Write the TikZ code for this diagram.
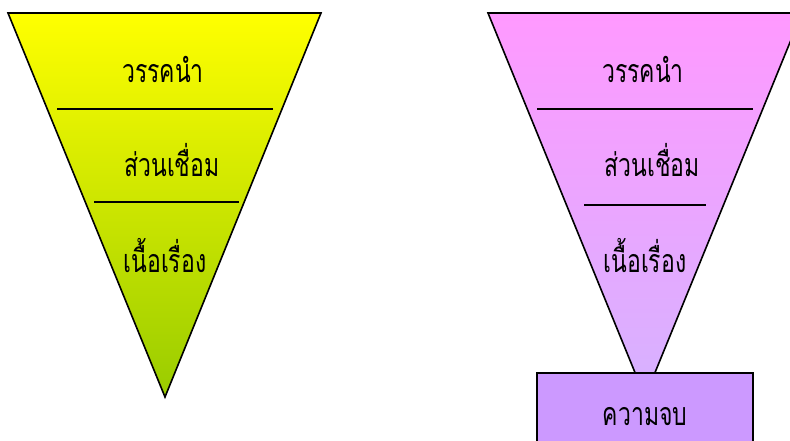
\documentclass[tikz,border=0pt]{standalone}
\usepackage{fontspec}
\usepackage{graphicx}
\newfontfamily\thaifont[Script=Thai]{Loma}
\newcommand\thtxt[1]{\scalebox{1}[1.4]{#1}}
\definecolor{ytop}{RGB}{255,255,0}
\definecolor{ybot}{RGB}{153,204,0}
\definecolor{ptop}{RGB}{255,153,255}
\definecolor{pbot}{RGB}{214,178,255}
\definecolor{boxc}{RGB}{204,153,255}
\tikzset{
  lbl/.style={anchor=base, inner sep=0pt, font=\thaifont\fontsize{23}{26}\selectfont},
  sep/.style={line width=1.8pt},
  tri/.style={line width=1.6pt, line join=miter}
}
\begin{document}
\begin{tikzpicture}[x=1pt,y=-1pt]
\useasboundingbox (0,0) rectangle (790,441);
\clip (0,0) rectangle (790,441);
% left funnel
\shade[top color=ytop, bottom color=ybot] (8,13) -- (321,13) -- (165,397) -- cycle;
\draw[tri] (8,13) -- (321,13) -- (165,397) -- cycle;
\draw[sep] (57,109) -- (273,109);
\draw[sep] (94,202) -- (239,202);
\node[lbl] (l1) at (163,83) {\thtxt{วรรคนำ}};
\node[lbl] (l2) at (172,177) {\thtxt{ส่วนเชื่อม}};
\node[lbl] (l3) at (165,272) {\thtxt{เนื้อเรื่อง}};
% right funnel
\shade[top color=ptop, bottom color=pbot] (488,13) -- (802,13) -- (645,397) -- cycle;
\draw[tri] (488,13) -- (802,13) -- (645,397) -- cycle;
\draw[sep] (537,109) -- (753,109);
\draw[sep] (584,205) -- (706,205);
\node[lbl] (r1) at (643,83) {\thtxt{วรรคนำ}};
\node[lbl] (r2) at (652,177) {\thtxt{ส่วนเชื่อม}};
\node[lbl] (r3) at (645,272) {\thtxt{เนื้อเรื่อง}};
\draw[tri, fill=boxc] (537,373) rectangle (753,460);
\node[lbl] (end) at (645,425) {\thtxt{ความจบ}};
\end{tikzpicture}
\end{document}
